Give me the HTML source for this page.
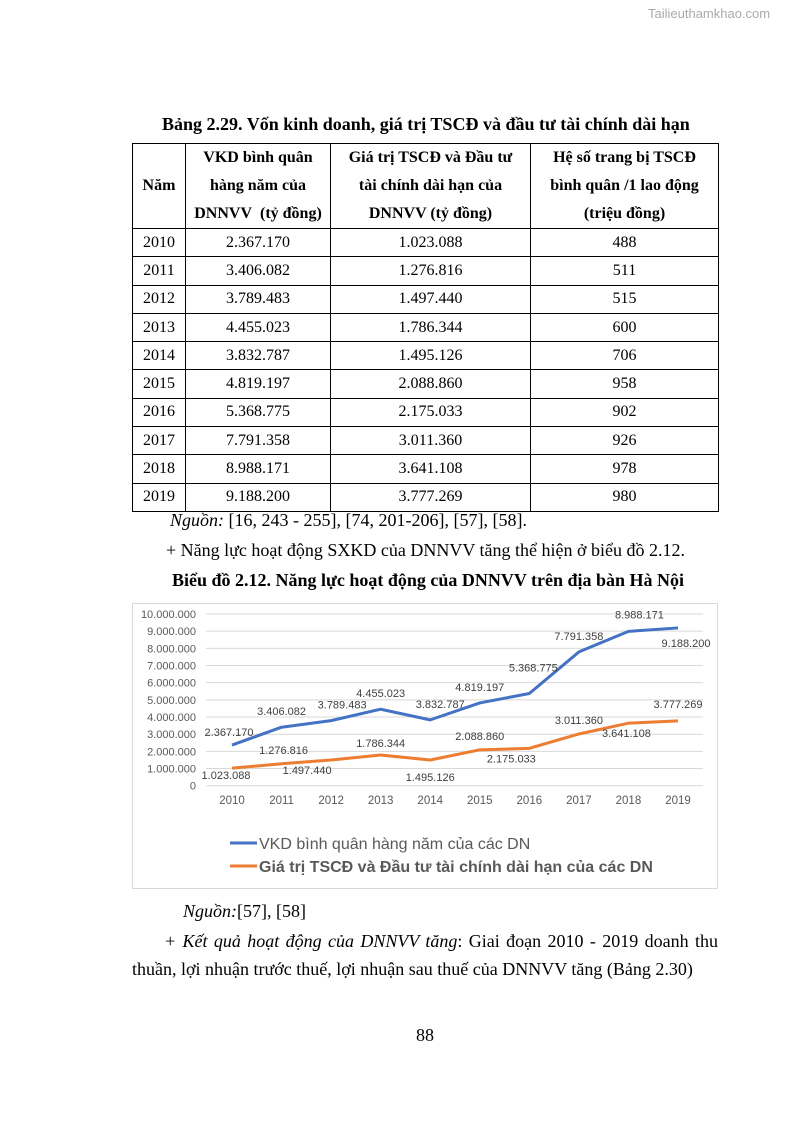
<!DOCTYPE html>
<html><head><meta charset="utf-8">
<style>
body{margin:0;background:#fff;}
#page{position:relative;width:794px;height:1123px;overflow:hidden;font-family:"Liberation Serif",serif;color:#000;}
.t{position:absolute;white-space:nowrap;font-size:18px;}
table{position:absolute;left:132px;top:143px;border-collapse:collapse;font-size:16px;}
td{border:1px solid #000;text-align:center;padding:0;height:27.3px;}
thead td{font-weight:bold;line-height:28px;height:84px;}
</style></head><body>
<div id="page">
<div class="t" style="left:648px;top:6px;font-family:'Liberation Sans',sans-serif;font-size:13px;color:#aaa;">Tailieuthamkhao.com</div>
<div class="t" style="left:162px;top:114px;font-weight:bold;">Bảng 2.29. Vốn kinh doanh, giá trị TSCĐ và đầu tư tài chính dài hạn</div>
<table>
<colgroup><col style="width:53px"><col style="width:145px"><col style="width:200px"><col style="width:188px"></colgroup>
<thead><tr><td>Năm</td><td>VKD bình quân<br>hàng năm của<br>DNNVV&nbsp; (tỷ đồng)</td><td>Giá trị TSCĐ và Đầu tư<br>tài chính dài hạn của<br>DNNVV (tỷ đồng)</td><td>Hệ số trang bị TSCĐ<br>bình quân /1 lao động<br>(triệu đồng)</td></tr></thead>
<tbody id="tb"></tbody>
</table>
<div class="t" style="left:170px;top:510px;"><i>Nguồn:</i> [16, 243 - 255], [74, 201-206], [57], [58].</div>
<div class="t" style="left:166px;top:540px;">+ Năng lực hoạt động SXKD của DNNVV tăng thể hiện ở biểu đồ 2.12.</div>
<div class="t" style="left:172px;top:570px;font-weight:bold;">Biểu đồ 2.12. Năng lực hoạt động của DNNVV trên địa bàn Hà Nội</div>
<svg id="chart" width="794" height="1123" style="position:absolute;left:0;top:0;pointer-events:none;font-family:'Liberation Sans',sans-serif;"></svg>
<div class="t" style="left:183px;top:901px;"><i>Nguồn:</i>[57], [58]</div>
<div class="t" style="left:164px;top:931px;width:554px;text-align:justify;text-align-last:justify;white-space:normal;"><i>+ Kết quả hoạt động của DNNVV tăng</i>: Giai đoạn 2010 - 2019 doanh thu</div>
<div class="t" style="left:132px;top:959px;">thuần, lợi nhuận trước thuế, lợi nhuận sau thuế của DNNVV tăng (Bảng 2.30)</div>
<div class="t" style="left:416px;top:1025px;">88</div>
</div>
<script>
const years=[2010,2011,2012,2013,2014,2015,2016,2017,2018,2019];
const vkd=[2367170,3406082,3789483,4455023,3832787,4819197,5368775,7791358,8988171,9188200];
const tscd=[1023088,1276816,1497440,1786344,1495126,2088860,2175033,3011360,3641108,3777269];
const ratio=[488,511,515,600,706,958,902,926,978,980];
const yTicks=[0,1000000,2000000,3000000,4000000,5000000,6000000,7000000,8000000,9000000,10000000];
const vkdOff=[[-3,-13],[0,-16],[11,-16],[0,-16],[10,-16],[0,-16],[4,-26],[0,-16],[11,-17],[8,15]];
const tscdOff=[[-6,7],[2,-14],[-24,10],[0,-12],[0,17],[0,-14],[-18,10],[0,-14],[-2,10],[0,-17]];
function fmt(v){return v.toString().replace(/\B(?=(\d{3})+(?!\d))/g,'.');}
const tb=document.getElementById('tb');
years.forEach((y,i)=>{const tr=document.createElement('tr');


tr.innerHTML='<td>'+y+'</td><td>'+fmt(vkd[i])+'</td><td>'+fmt(tscd[i])+'</td><td>'+ratio[i]+'</td>';tb.appendChild(tr);});
const NS='http://www.w3.org/2000/svg',svg=document.getElementById('chart');
function el(t,a,p){const e=document.createElementNS(NS,t);for(const k in a)e.setAttribute(k,a[k]);(p||svg).appendChild(e);return e;}
const x0=232,x1=678,yb=785.7,yt=614;
const X=i=>x0+(x1-x0)*i/(years.length-1);
const Y=v=>yb-(yb-yt)*v/10000000;
const box=el('rect',{x:132.5,y:603.5,width:585,height:285,fill:'#fff',stroke:'#d9d9d9'});


yTicks.forEach(t=>{const g=el('line',{x1:206,x2:703,y1:Y(t),y2:Y(t),stroke:'#d9d9d9','stroke-width':1});


const l=el('text',{x:196,y:Y(t)+4,'text-anchor':'end','font-size':11,fill:'#595959'});l.textContent=fmt(t);

});
years.forEach((y,i)=>{const l=el('text',{x:X(i),y:804,'text-anchor':'middle','font-size':11.5,fill:'#595959'});l.textContent=y;

});
function series(vals,off,col,name){
const p=el('polyline',{points:vals.map((v,i)=>X(i)+','+Y(v)).join(' '),fill:'none',stroke:col,'stroke-width':3,'stroke-linejoin':'round'});


vals.forEach((v,i)=>{const t=el('text',{x:X(i)+off[i][0],y:Y(v)+off[i][1]+4,'text-anchor':'middle','font-size':11,fill:'#404040'});t.textContent=fmt(v);

});}
series(vkd,vkdOff,'#4472c4','vkd');
series(tscd,tscdOff,'#ed7d31','tscd');
const l1=el('line',{x1:230,x2:257,y1:843,y2:843,stroke:'#4472c4','stroke-width':3});


const t1=el('text',{x:259,y:849,'font-size':16,fill:'#595959'});t1.textContent='VKD bình quân hàng năm của các DN';


const l2=el('line',{x1:230,x2:257,y1:866,y2:866,stroke:'#ed7d31','stroke-width':3});


const t2=el('text',{x:259,y:872,'font-size':16,'font-weight':'bold',fill:'#595959'});t2.textContent='Giá trị TSCĐ và Đầu tư tài chính dài hạn của các DN';


</script>
</body></html>
